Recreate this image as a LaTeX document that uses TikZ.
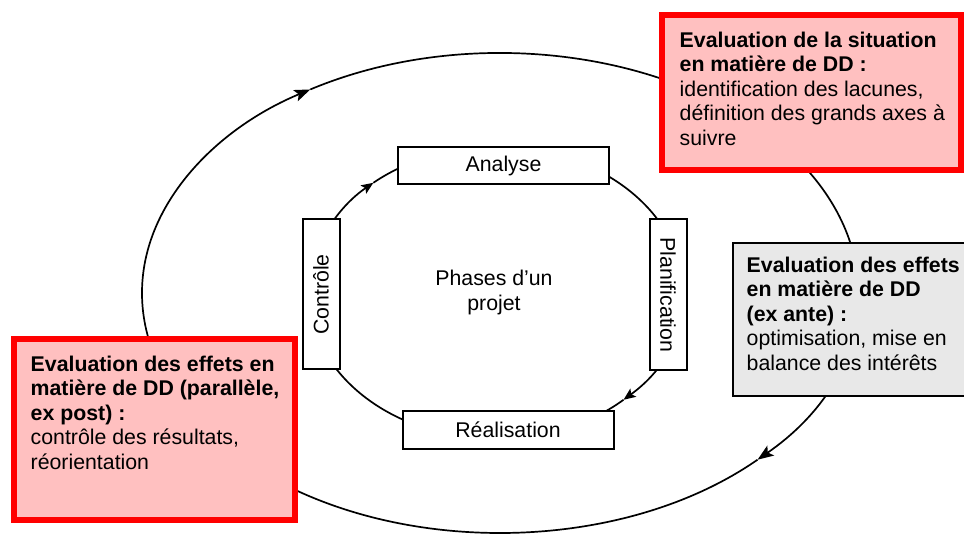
\documentclass[tikz,border=0pt]{standalone}
\usepackage{fontspec}
\setmainfont{Liberation Sans}
\usetikzlibrary{arrows.meta}
\definecolor{boxred}{RGB}{255,0,0}
\definecolor{boxpink}{RGB}{255,192,192}
\definecolor{boxgrey}{RGB}{232,232,232}
\begin{document}
\begin{tikzpicture}[x=1pt,y=-1pt,
  lbl/.style={font=\fontsize{21.3}{24.5}\selectfont},
  phase/.style={draw, line width=2pt, fill=white, inner sep=0pt, lbl},
  evalred/.style={draw=boxred, line width=6pt, fill=boxpink, inner sep=0pt},
  evalgrey/.style={draw, line width=2pt, fill=boxgrey, inner sep=0pt},
  evaltext/.style={lbl, align=left, inner sep=0pt, anchor=north west},
  cyc/.style={line width=1.7pt},
  bigtip/.style={-{Stealth[length=16pt,width=12pt,inset=3.5pt]}},
  smalltip/.style={-{Stealth[length=12pt,width=10pt,inset=2.5pt]}},
]
\useasboundingbox (0,0) rectangle (964,534);

% outer evaluation cycle (clockwise)
\coordinate (oc) at (500,293);
\draw[cyc, bigtip] (oc) ++(44:358 and 240)
  arc[start angle=44, end angle=238, x radius=358, y radius=240];
\draw[cyc, bigtip] (oc) ++(238:358 and 240)
  arc[start angle=238, end angle=404, x radius=358, y radius=240];

% inner project cycle (clockwise)
\coordinate (ic) at (496,293);
\draw[cyc, smalltip] (ic) ++(47:187 and 146)
  arc[start angle=47, end angle=229, x radius=187, y radius=146];
\draw[cyc, smalltip] (ic) ++(229:187 and 146)
  arc[start angle=229, end angle=407, x radius=187, y radius=146];

% project phases
\node[phase, minimum width=211pt, minimum height=37pt] (analyse) at (503.5,165.5) {Analyse};
\node[phase, minimum width=211pt, minimum height=37pt] (realisation) at (508,430) {Réalisation};
\node[phase, rotate=90, minimum width=150pt, minimum height=37pt] (controle) at (321,294.5) {Contrôle};
\node[phase, rotate=-90, minimum width=151pt, minimum height=37pt] (planif) at (668,295) {Planification};
\node[lbl, align=center, inner sep=0pt] (phases) at (494,292.5) {Phases d’un\\projet};

% evaluation boxes
\node[evalred, minimum width=299pt, minimum height=155pt] (situation) at (811.5,92.5) {};
\node[evaltext] (situationtxt) at (679.5,31.7)
  {\textbf{Evaluation de la situation}\\\textbf{en matière de DD :}\\identification des lacunes,\\définition des grands axes à\\suivre};

\node[evalgrey, minimum width=242pt, minimum height=153pt] (exante) at (854,319.5) {};
\node[evaltext] (exantetxt) at (746.5,256.4)
  {\textbf{Evaluation des effets}\\\textbf{en matière de DD}\\\textbf{(ex ante) :}\\optimisation, mise en\\balance des intérêts};

\node[evalred, minimum width=281pt, minimum height=181pt] (expost) at (154.5,429.5) {};
\node[evaltext] (naposttxt) at (30.5,355.7)
  {\textbf{Evaluation des effets en}\\\textbf{matière de DD (parallèle,}\\\textbf{ex post) :}\\contrôle des résultats,\\réorientation};
\end{tikzpicture}
\end{document}
